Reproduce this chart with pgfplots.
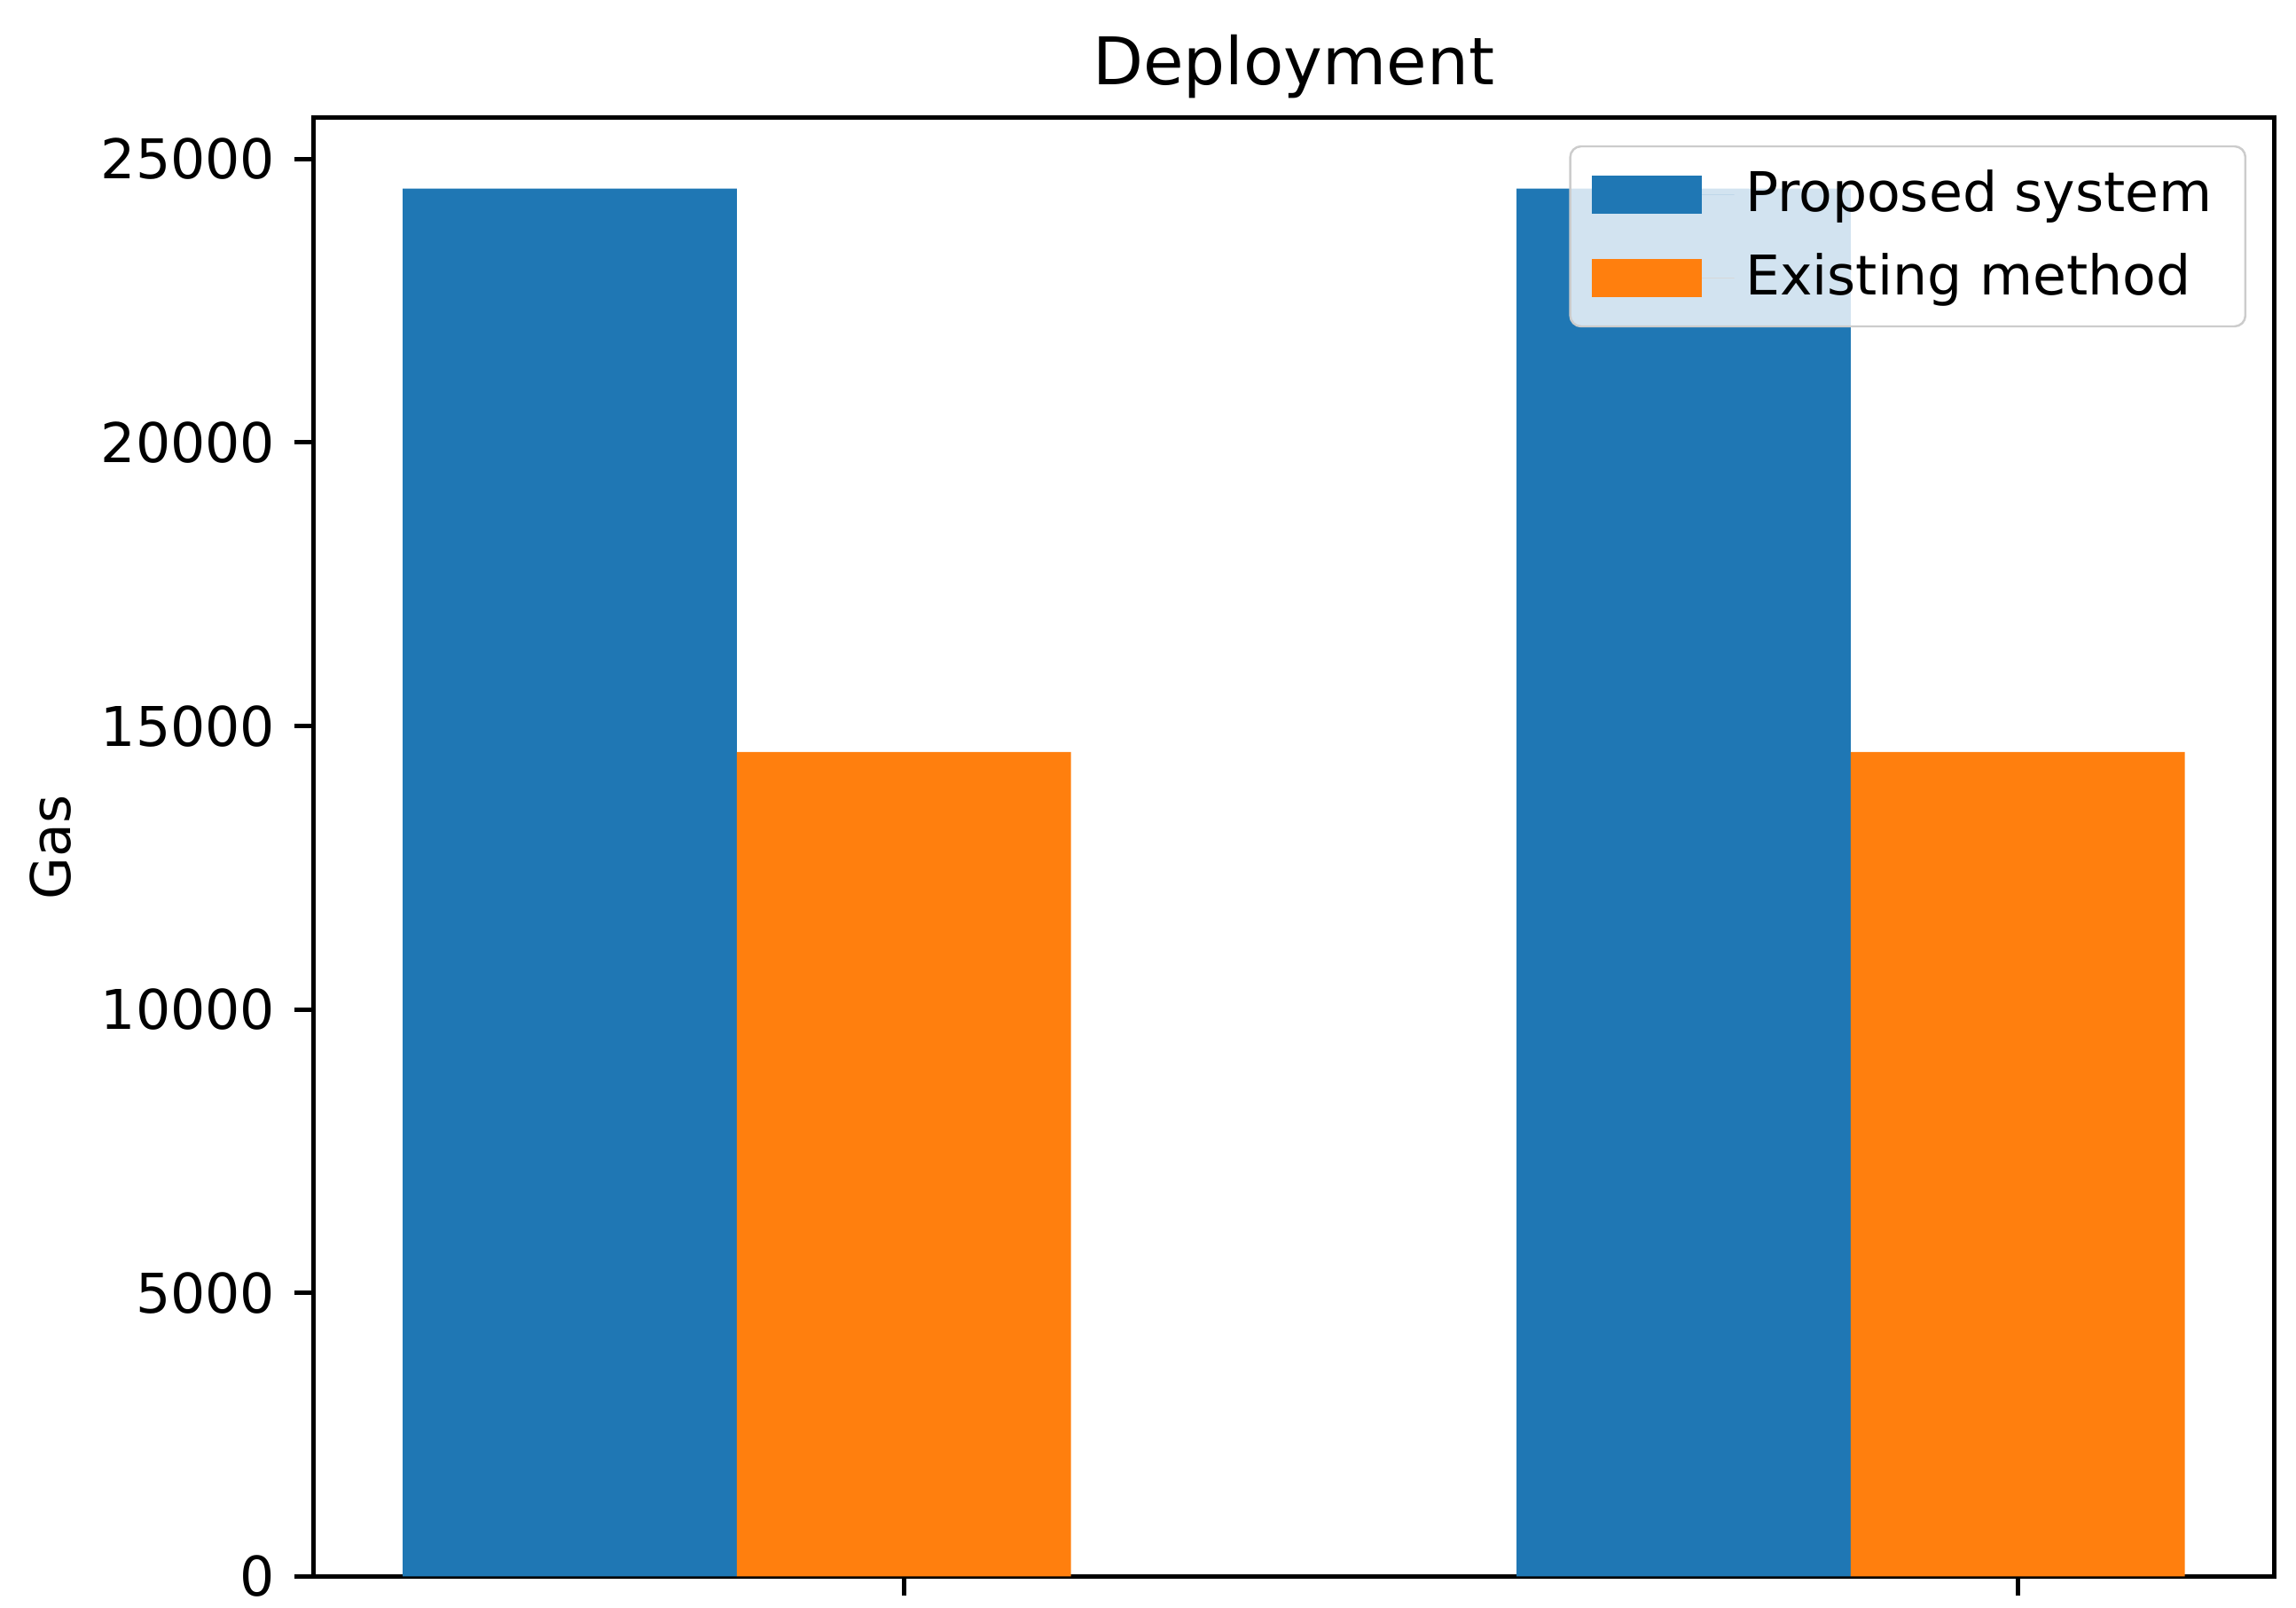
\documentclass[border=0pt]{standalone}
\usepackage{pgfplots}
\pgfplotsset{compat=1.18}
\usepackage{fontspec}
\setmainfont{DejaVu Sans}
\definecolor{tabblue}{HTML}{1F77B4}
\definecolor{taborange}{HTML}{FF7F0E}
\begin{document}
\begin{tikzpicture}
\begin{axis}[
    scale only axis,
    width=4.956in, height=3.687in,
    xmin=-0.23, xmax=1.53,
    ymin=0, ymax=25727,
    ybar, bar width=0.3,
    xtick={0.3,1.3}, xticklabels={{},{}},
    ytick={0,5000,10000,15000,20000,25000},
    scaled y ticks=false,
    /pgf/number format/assume math mode=true,
    /pgf/number format/1000 sep={},
    tick pos=left, tick align=outside,
    major tick length=3.5pt,
    every tick/.style={black, line width=0.8pt},
    axis line style={line width=0.8pt},
    tick label style={font=\fontsize{10}{12}\selectfont},
    title={Deployment},
    title style={font=\fontsize{12}{14}\selectfont, at={(0.5,1)}, anchor=base},
    ylabel={Gas},
    ylabel style={font=\fontsize{10}{12}\selectfont, at={([xshift=-48pt]axis description cs:0,0.5)}, anchor=center},
    legend style={at={(1,1)}, anchor=north east, xshift=-5pt, yshift=-5pt,
        draw=black!20, rounded corners=2pt, fill=white, fill opacity=0.8, text opacity=1,
        font=\fontsize{10}{12}\selectfont, inner xsep=4pt, inner ysep=2.3pt, row sep=2.1pt},
    legend cell align=left,
]
\addplot[fill=tabblue, draw=none, bar shift=0pt,
    legend image code/.code={\fill[tabblue, fill opacity=1, sharp corners] (0pt,-3.5pt) rectangle (20pt,3.5pt); \path (0pt,0pt) -- (26pt,0pt);}]
    coordinates {(0,24480) (1,24480)};
\addplot[fill=taborange, draw=none, bar shift=0pt,
    legend image code/.code={\fill[taborange, fill opacity=1, sharp corners] (0pt,-3.5pt) rectangle (20pt,3.5pt); \path (0pt,0pt) -- (26pt,0pt);}]
    coordinates {(0.3,14540) (1.3,14540)};
\legend{Proposed system, Existing method}
\end{axis}
\pgfresetboundingbox
\path (current axis.south west) ++(-0.793in,-0.078in) coordinate (bbA);
\path (current axis.north east) ++(0.056in,0.298in) coordinate (bbB);
\useasboundingbox (bbA) rectangle (bbB);
\end{tikzpicture}
\end{document}
